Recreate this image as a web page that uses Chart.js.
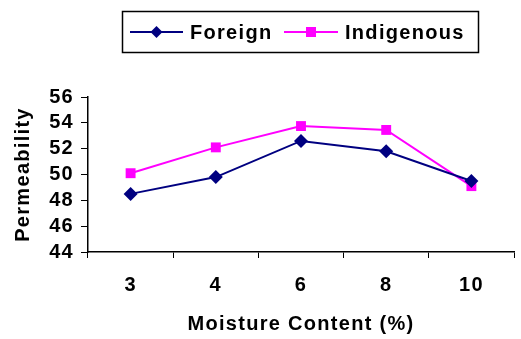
<!DOCTYPE html>
<html lang="en">
<head>
    <meta charset="UTF-8">
    <title>Permeability vs Moisture Content</title>
    <script src="https://cdn.jsdelivr.net/npm/chart.js"></script>
    <style>
        body, html { margin: 0; padding: 0; background: #fff; overflow: hidden; }
        #wrap { width: 521px; height: 339px; }
    </style>
</head>
<body>
    <div id="wrap"><canvas id="permChart"></canvas></div>

    <script>
        const moisture = ["3", "4", "6", "8", "10"];
        const foreign = [48.5, 49.8, 52.6, 51.8, 49.5];
        const indigenous = [50.1, 52.1, 53.75, 53.45, 49.1];
        const yTicks = [44, 46, 48, 50, 52, 54, 56];

        Chart.defaults.color = '#000';
        Chart.defaults.font.family = '"Liberation Sans", Arial, sans-serif';
        Chart.defaults.font.weight = 'bold';

        // the original text is slightly spaced out
        const spacing = {
            id: 'spacing',
            beforeUpdate(chart) { chart.ctx.letterSpacing = '1.3px'; },
            beforeDraw(chart) { chart.ctx.letterSpacing = '1.3px'; }
        };

        // boxed legend with line + marker samples, like the spreadsheet original
        const boxLegend = {
            id: 'boxLegend',
            afterDraw(chart) {
                const c = chart.ctx;
                c.save();
                c.strokeStyle = '#000';
                c.lineWidth = 1.5;
                c.strokeRect(122.5, 11.5, 356, 41);
                const items = [
                    { ds: chart.data.datasets[0], x0: 130, x1: 183, tx: 190 },
                    { ds: chart.data.datasets[1], x0: 284, x1: 338, tx: 345 }
                ];
                c.font = 'bold 20px "Liberation Sans", Arial, sans-serif';
                c.textBaseline = 'middle';
                items.forEach(it => {
                    const y = 32;
                    c.strokeStyle = it.ds.borderColor;
                    c.lineWidth = 2;
                    c.beginPath(); c.moveTo(it.x0, y); c.lineTo(it.x1, y); c.stroke();
                    const mx = (it.x0 + it.x1) / 2;
                    c.fillStyle = it.ds.borderColor;
                    c.beginPath();
                    if (it.ds.pointStyle === 'rectRot') {
                        c.moveTo(mx, y - 6); c.lineTo(mx + 6, y); c.lineTo(mx, y + 6); c.lineTo(mx - 6, y);
                    } else {
                        c.rect(mx - 5, y - 5, 10, 10);
                    }
                    c.closePath(); c.fill();
                    c.fillStyle = '#000';
                    c.fillText(it.ds.label, it.tx, y + 1);
                });
                c.restore();
            }
        };

        const ctx = document.getElementById('permChart').getContext('2d');
        new Chart(ctx, {
            type: 'line',
            data: {
                labels: moisture,
                datasets: [
                    {
                        label: 'Foreign',
                        data: foreign,
                        borderColor: '#000080',
                        backgroundColor: '#000080',
                        borderWidth: 2,
                        pointStyle: 'rectRot',
                        pointRadius: 7,
                        pointBorderWidth: 0,
                        tension: 0
                    },
                    {
                        label: 'Indigenous',
                        data: indigenous,
                        borderColor: '#FF00FF',
                        backgroundColor: '#FF00FF',
                        borderWidth: 2,
                        pointStyle: 'rect',
                        pointRadius: 7,
                        pointBorderWidth: 0,
                        tension: 0
                    }
                ]
            },
            options: {
                responsive: true,
                maintainAspectRatio: false,
                animation: false,
                layout: { padding: { top: 97, right: 4, left: 0, bottom: 0 } },
                scales: {
                    x: {
                        offset: true,
                        grid: { offset: true, drawOnChartArea: false, tickLength: 6, color: '#000', tickColor: '#000' },
                        border: { color: '#000', width: 1.5 },
                        ticks: { font: { size: 20, weight: 'bold' }, padding: 15, maxRotation: 0, autoSkip: false },
                        title: { display: true, text: 'Moisture Content (%)', font: { size: 20, weight: 'bold' }, padding: { top: 0, bottom: 3 } },
                        afterFit: s => { s.height = 87; }
                    },
                    y: {
                        min: yTicks[0],
                        max: yTicks[yTicks.length - 1],
                        afterBuildTicks: s => { s.ticks = yTicks.map(v => ({ value: v })); },
                        grid: { drawOnChartArea: false, tickLength: 7, color: '#000', tickColor: '#000' },
                        border: { color: '#000', width: 1.5 },
                        ticks: { font: { size: 20, weight: 'bold', lineHeight: 1 }, padding: 7, autoSkip: false },
                        title: { display: true, text: 'Permeability', font: { size: 20, weight: 'bold' }, padding: { top: 11, bottom: 0 } },
                        afterFit: s => { s.width = 88; }
                    }
                },
                plugins: {
                    legend: { display: false },
                    tooltip: { enabled: false }
                }
            },
            plugins: [spacing, boxLegend]
        });
    </script>
</body>
</html>
